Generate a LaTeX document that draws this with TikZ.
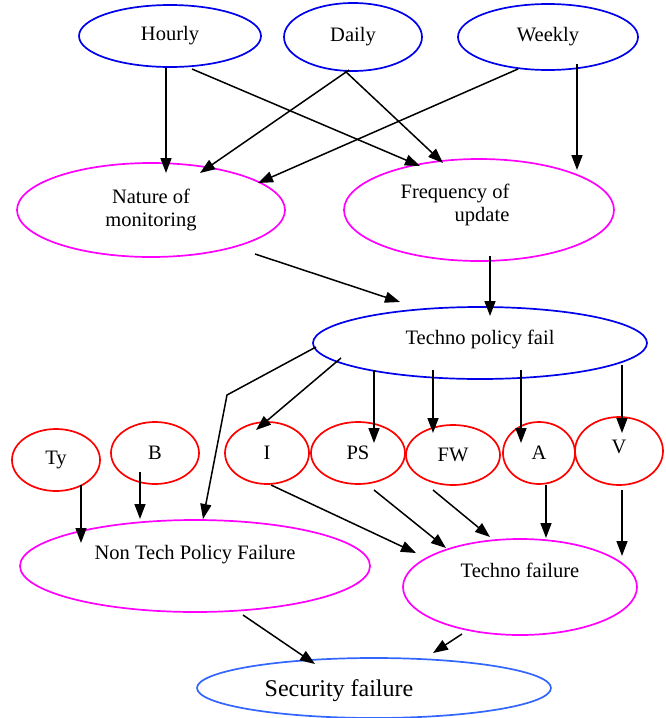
\documentclass[tikz,border=0pt]{standalone}
\usepackage{fontspec}
\setmainfont{Liberation Serif}
\usepackage{xcolor}
\usetikzlibrary{shapes.geometric,arrows.meta,calc}
\definecolor{secblue}{RGB}{51,102,255}
\definecolor{pinkline}{RGB}{255,0,255}
\definecolor{topblue}{RGB}{0,0,235}
\newcommand{\offtext}[3]{\raisebox{#2}[0pt][0pt]{\makebox[0pt][l]{\hspace*{#1}\makebox[0pt][c]{#3}}}}

\begin{document}
\begin{tikzpicture}[x=1pt,y=-1pt,>={Triangle[length=15pt,width=11pt]},line width=1.5pt,
		font=\fontsize{20.5}{23}\selectfont,
		oval/.style={ellipse,draw=#1,line width=1.7pt,inner sep=0pt}]
	\useasboundingbox (0,0) rectangle (665,718);

	% frequency of checks
	\node[oval=topblue,minimum width=182,minimum height=62] (hourly) at (170,36) {Hourly};
	\node[oval=topblue,minimum width=138,minimum height=68] (daily) at (353,37) {Daily};
	\node[oval=topblue,minimum width=180,minimum height=66] (weekly) at (548,37) {Weekly};

	\node[oval=pinkline,minimum width=268,minimum height=94,align=center] (nature) at (151,210) {Nature of\\monitoring};
	\node[oval=pinkline,minimum width=270,minimum height=102] (freq) at (479,210)
		{\offtext{-24pt}{-1pt}{\begin{tabular}[c]{@{}r@{}}Frequency of\\update\end{tabular}}};

	\node[oval=topblue,minimum width=334,minimum height=72] (tpf) at (480,343) {\offtext{0pt}{-1.5pt}{Techno policy fail}};

	% small causes
	\foreach \n/\lbl/\x/\y/\w/\h in {ty/Ty/56/460/88/62, b/B/155/453/88/62, i/I/267/453/84/62,
			ps/PS/358/453/94/62, fw/FW/453/455/94/60, a/A/539/453/72/62}
		\node[oval=red,minimum width=\w,minimum height=\h] (\n) at (\x,\y) {\lbl};
	\node[oval=red,minimum width=88,minimum height=68] (v) at (619,451) {\offtext{0pt}{-2.5pt}{V}};

	\node[oval=pinkline,minimum width=350,minimum height=92] (ntpf) at (195,566) {\offtext{0pt}{6.5pt}{Non Tech Policy Failure}};
	\node[oval=pinkline,minimum width=234,minimum height=96] (tf) at (520,587) {\offtext{0pt}{9.5pt}{Techno failure}};
	\node[oval=secblue,minimum width=354,minimum height=60,font=\fontsize{24}{28}\selectfont] (sec) at (374,688)
		{\offtext{-35pt}{-8pt}{Security failure}};

	% arrows
	\foreach \s/\sx/\sy/\e/\ex/\ey in {hourly/-4/32/nature/15/-37, hourly/22/33/freq/-59/-44,
			daily/-4/33/nature/49/-37, daily/-8/34/freq/-36/-47,
			weekly/-30/32/nature/107/-27, weekly/29/27/freq/98/-40,
			nature/104/44/tpf/-80/-41, freq/11/46/tpf/10/-27,
			tpf/-139/15/i/-11/-23, tpf/-106/27/ps/16/-10, tpf/-47/27/fw/-20/-22,
			tpf/41/27/a/-18/-10, tpf/142/22/v/3/-18,
			ty/25/25/ntpf/-114/-23, b/-15/19/ntpf/-55/-47,
			i/4/32/tf/-104/-34, ps/16/37/tf/-74/-39, fw/-20/35/tf/-30/-50,
			a/7/32/tf/26/-49, v/3/39/tf/102/-31,
			ntpf/48/49/sec/-59/-24, tf/-58/47/sec/59/-35}
		\draw[->] ($(\s)+(\sx,\sy)$) -- ($(\e)+(\ex,\ey)$);

	\coordinate (bend) at (227,395);
	\draw[->] ($(tpf)+(-164,4)$) -- (bend) -- ($(ntpf)+(8,-47)$);
\end{tikzpicture}
\end{document}
